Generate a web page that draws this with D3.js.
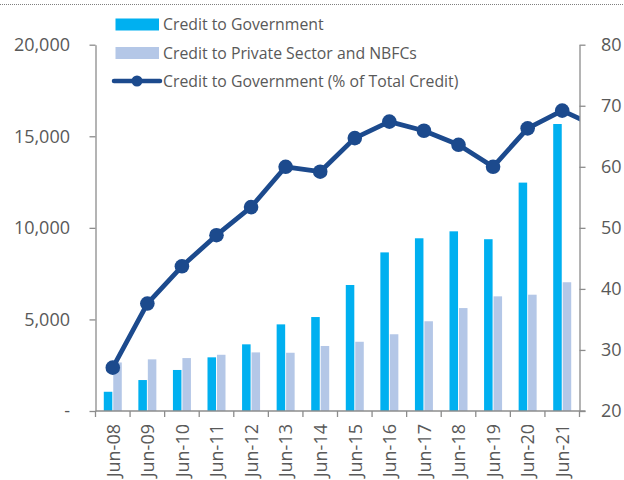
<!DOCTYPE html>
<html>
<head>
<meta charset="utf-8">
<script src="https://cdn.jsdelivr.net/npm/d3@7"></script>
<style>
  html, body { margin: 0; padding: 0; background: #fff; }
  svg { display: block; }
  text { font-family: "Open Sans", "Noto Sans", sans-serif; fill: #595959; }
</style>
</head>
<body>
<svg id="chart" width="624" height="480"></svg>
<script>
// Fiscal-year periods shown on the category axis
const periods = ["Jun-08", "Jun-09", "Jun-10", "Jun-11", "Jun-12", "Jun-13", "Jun-14",
                 "Jun-15", "Jun-16", "Jun-17", "Jun-18", "Jun-19", "Jun-20", "Jun-21"];

// Outstanding credit (left axis)
const creditGovernment = [1050, 1690, 2240, 2930, 3640, 4730, 5130,
                          6880, 8660, 9430, 9810, 9380, 12470, 15670];
const creditPrivate    = [2650, 2820, 2890, 3070, 3200, 3180, 3550,
                          3780, 4190, 4900, 5620, 6260, 6350, 7030];

// Government share of total credit, % (right axis); the series runs one period past the axis
const govShare = [27.1, 37.6, 43.7, 48.8, 53.4, 60.0, 59.2,
                  64.7, 67.4, 65.9, 63.6, 60.0, 66.3, 69.2, 66.6];

const leftTicks  = [0, 5000, 10000, 15000, 20000];
const rightTicks = [20, 30, 40, 50, 60, 70, 80];

const seriesNames = ["Credit to Government", "Credit to Private Sector and NBFCs",
                     "Credit to Government (% of Total Credit)"];
const colors = { gov: "#00b0f0", priv: "#b4c7e7", line: "#1c4a8d", axis: "#8c8c8c" };

const svg = d3.select("#chart");
const plot = { left: 95.5, right: 579.5, top: 44.7, bottom: 411 };

// Scales
const x = d3.scaleBand().domain(periods).range([plot.left, plot.right]).padding(0);
const xIndex = d3.scaleLinear().domain([-0.5, periods.length - 0.5]).range([plot.left, plot.right]);
const xSub = d3.scaleBand().domain(["gov", "priv"]).range([-9, 9]).paddingInner(0.1);
const yL = d3.scaleLinear().domain([0, 20000]).range([plot.bottom, plot.top]);
const yR = d3.scaleLinear().domain([20, 80]).range([plot.bottom, plot.top]);

// Dotted rule along the top edge
svg.append("line")
  .attr("x1", 0).attr("x2", 624).attr("y1", 4.5).attr("y2", 4.5)
  .attr("stroke", "#7f7f7f").attr("stroke-width", 1).attr("stroke-dasharray", "1,1");

// Clip region for the plotting area
svg.append("defs").append("clipPath").attr("id", "plotClip")
  .append("rect")
  .attr("x", plot.left).attr("y", 0)
  .attr("width", plot.right - plot.left).attr("height", plot.bottom);

// Bars
const barData = periods.map((p, i) => ({ p, gov: creditGovernment[i], priv: creditPrivate[i] }));
const groups = svg.append("g").selectAll("g").data(barData).join("g")
  .attr("transform", d => `translate(${x(d.p) + x.bandwidth() / 2},0)`);
groups.append("rect")
  .attr("x", xSub("gov")).attr("width", xSub.bandwidth())
  .attr("y", d => yL(d.gov)).attr("height", d => yL(0) - yL(d.gov))
  .attr("fill", colors.gov);
groups.append("rect")
  .attr("x", xSub("priv")).attr("width", xSub.bandwidth())
  .attr("y", d => yL(d.priv)).attr("height", d => yL(0) - yL(d.priv))
  .attr("fill", colors.priv);

// Left axis
const axisL = svg.append("g").attr("transform", `translate(${plot.left},0)`)
  .call(d3.axisLeft(yL).tickValues(leftTicks).tickSizeInner(6).tickSizeOuter(0).tickPadding(19.5)
    .tickFormat(d => d === 0 ? "-" : d3.format(",")(d)));
// Right axis
const axisR = svg.append("g").attr("transform", `translate(${plot.right},0)`)
  .call(d3.axisRight(yR).tickValues(rightTicks).tickSizeInner(6).tickSizeOuter(0).tickPadding(15.5));
// Bottom axis: ticks sit at category boundaries
const boundaries = d3.range(periods.length + 1).map(i => xIndex(i - 0.5));
const axisB = svg.append("g").attr("transform", `translate(0,${plot.bottom})`);
axisB.append("line")
  .attr("x1", plot.left).attr("x2", plot.right + 6)
  .attr("stroke", colors.axis).attr("stroke-width", 1.3);
axisB.selectAll("line.tick").data(boundaries).join("line").attr("class", "tick")
  .attr("x1", d => d).attr("x2", d => d).attr("y1", 0).attr("y2", 6)
  .attr("stroke", colors.axis).attr("stroke-width", 1.3);
axisB.selectAll("text").data(periods).join("text")
  .attr("transform", d => `translate(${x(d) + x.bandwidth() / 2 + 0.5},13) rotate(-90)`)
  .attr("text-anchor", "end").attr("dy", "0.35em")
  .attr("font-size", 18).text(d => d);

[axisL, axisR].forEach(a => {
  a.select(".domain").attr("stroke", colors.axis).attr("stroke-width", 1.3);
  a.selectAll(".tick line").attr("stroke", colors.axis).attr("stroke-width", 1.3);
  a.selectAll(".tick text").attr("font-size", 18).attr("fill", "#595959")
    .style("font-family", "'Open Sans', sans-serif");
});

// Share line with markers
const lineData = govShare.map((v, i) => ({ i, v }));
const clipped = svg.append("g").attr("clip-path", "url(#plotClip)");
clipped.append("path").datum(lineData)
  .attr("fill", "none").attr("stroke", colors.line).attr("stroke-width", 4.8)
  .attr("stroke-linejoin", "round")
  .attr("d", d3.line().x(d => xIndex(d.i)).y(d => yR(d.v)));
clipped.selectAll("circle").data(lineData).join("circle")
  .attr("cx", d => xIndex(d.i)).attr("cy", d => yR(d.v)).attr("r", 7.3)
  .attr("fill", colors.line);

// Legend
const legend = svg.append("g");
const rowY = [24.5, 53, 81];
legend.append("rect").attr("x", 115.5).attr("y", rowY[0] - 6).attr("width", 43.5).attr("height", 12)
  .attr("fill", colors.gov);
legend.append("rect").attr("x", 115.5).attr("y", rowY[1] - 6).attr("width", 43.5).attr("height", 12)
  .attr("fill", colors.priv);
legend.append("line").attr("x1", 114).attr("x2", 160).attr("y1", rowY[2]).attr("y2", rowY[2])
  .attr("stroke", colors.line).attr("stroke-width", 4.5).attr("stroke-linecap", "round");
legend.append("circle").attr("cx", 137).attr("cy", rowY[2]).attr("r", 5.5).attr("fill", colors.line);
legend.selectAll("text.lg").data(seriesNames).join("text").attr("class", "lg")
  .attr("x", 163).attr("y", (d, i) => rowY[i]).attr("dy", "0.35em")
  .attr("font-size", 15.8).text(d => d);
</script>
</body>
</html>
